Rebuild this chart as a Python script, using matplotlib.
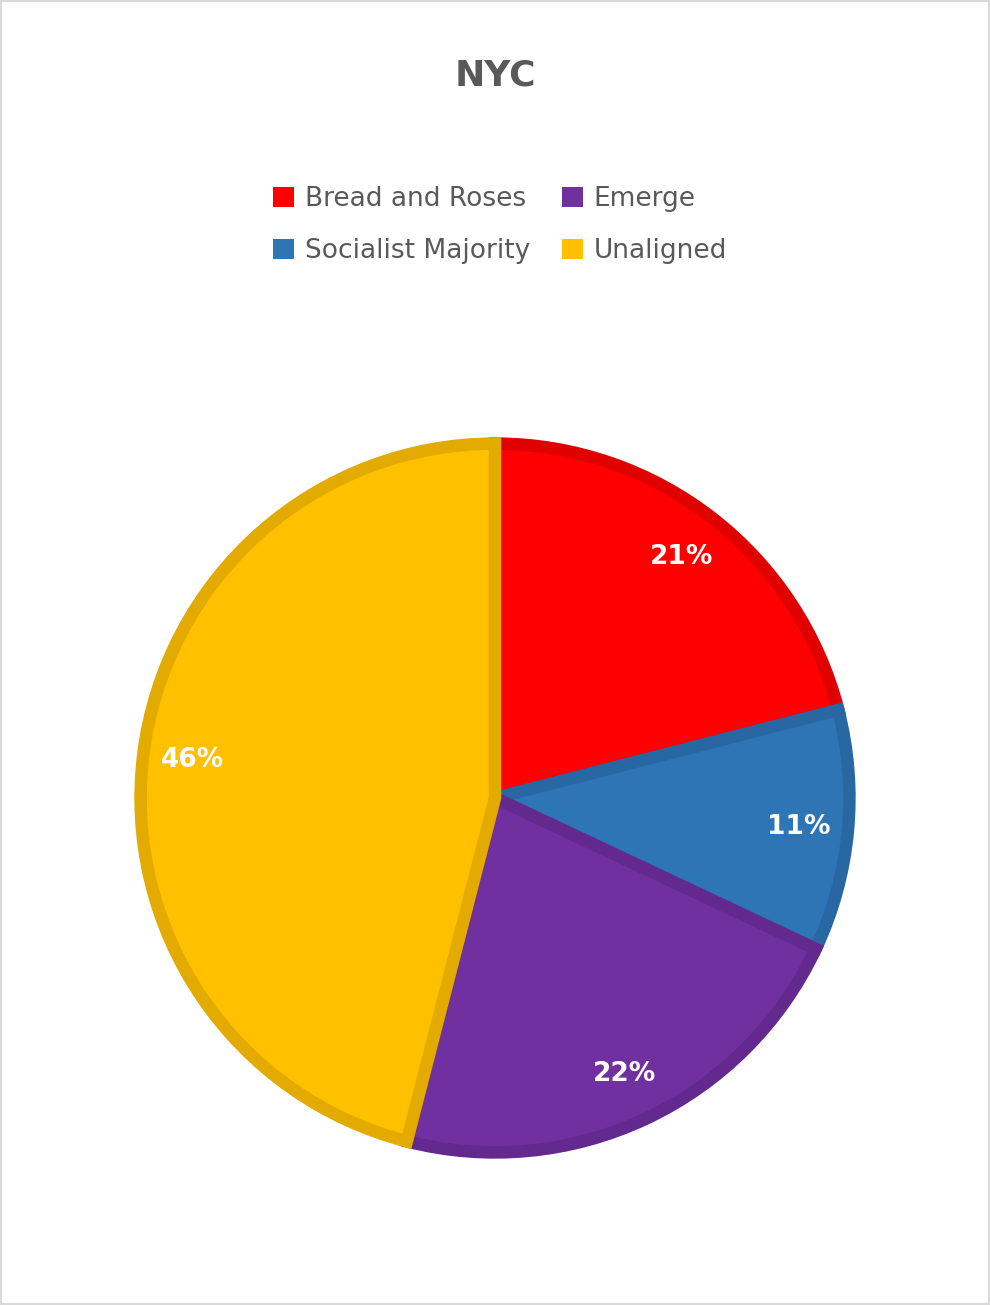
import matplotlib
matplotlib.use("Agg")
import matplotlib.pyplot as plt
from matplotlib.patches import Rectangle, Patch

categories = ["Bread and Roses", "Socialist Majority", "Emerge", "Unaligned"]
values = [21, 11, 22, 46]
colors = ["#FF0000", "#2E75B6", "#7030A0", "#FFC000"]
edges = ["#E00000", "#2967A3", "#63298F", "#E3AA00"]

fig = plt.figure(figsize=(9.9, 13.05), dpi=100)
fig.patch.set_facecolor("white")
fig.patches.append(Rectangle((0.001, 0.001), 0.998, 0.998, transform=fig.transFigure,
                             fill=False, edgecolor="#D9D9D9", linewidth=1.5))
ax = fig.add_axes([0.5 - 0.4475, 0.3885 - 0.3395, 0.895, 0.679])
wedges, texts, autotexts = ax.pie(values, colors=colors, startangle=90, counterclock=False,
                                  autopct="%d%%", pctdistance=0.86,
                                  wedgeprops=dict(linewidth=9),
                                  textprops=dict(color="white", fontsize=19, fontweight="bold"))
for w, e in zip(wedges, edges):
    w.set_edgecolor(e)
    w.set_joinstyle("miter")
ax.set_aspect("equal")

fig.text(0.5, 1 - 75 / 1305, "NYC", ha="center", va="center", fontsize=26,
         fontweight="bold", color="#595959")
handles = [Patch(facecolor=c) for c in colors]
fig.legend(handles, categories, ncol=2, loc="center", bbox_to_anchor=(0.505, 1 - 225 / 1305),
           frameon=False, fontsize=19, labelcolor="#595959", handlelength=0.8, handleheight=0.8,
           handletextpad=0.4, columnspacing=1.2, labelspacing=1.0)
fig.savefig("out.png", dpi=100)
